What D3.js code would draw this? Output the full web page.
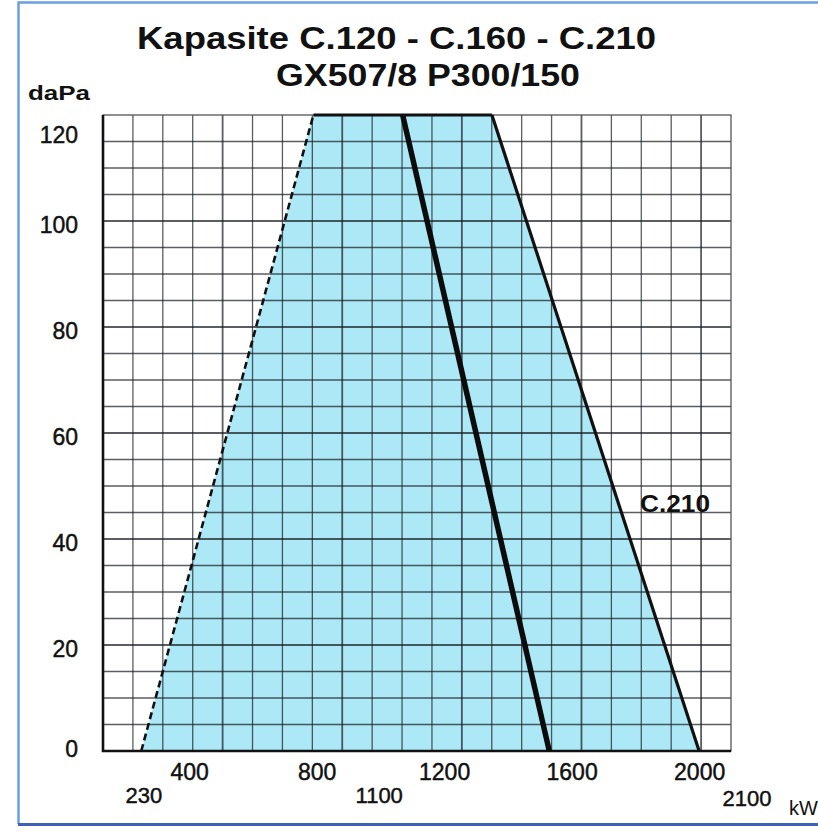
<!DOCTYPE html>
<html>
<head>
<meta charset="utf-8">
<title></title>
<style>
  body, html{
    margin: 0;
    background: #fff;
  }
  svg{
    display: block;
    font-family: "Liberation Sans", Arial, sans-serif;
  }
  .tick text, .mark{
    fill: #111;
    stroke: #111;
    stroke-width: 0.45px;
  }
</style>
</head>
<body>
<svg id="chart" width="818" height="832"></svg>
<script src="https://cdnjs.cloudflare.com/ajax/libs/d3/7.8.5/d3.min.js"></script>
<script>
var xTicks = [400, 800, 1200, 1600, 2000]
var xMarks = [230, 1100, 2100]
var yTicks = [0, 20, 40, 60, 80, 100, 120]

// working field: dashed left edge, flat top, C.210 edge
var envKW = [250, 790, 1350, 2000]
var envDaPa = [0, 120, 120, 0]
// C.160 limit (heavy line)
var c160KW = [1070, 1530]
var c160DaPa = [120, 0]

var svg = d3.select('#chart')
var W = 818, H = 832

var x = d3.scaleLinear().domain([130, 2100]).range([103, 731])
var y = d3.scaleLinear().domain([0, 120]).range([751, 115])

// frame round the whole sheet
svg.append('path')
  .attr('d', 'M' + (W + 10) + ',2.5 H18.5 V824')
  .attr('fill', 'none').attr('stroke', '#6aa0e0').attr('stroke-width', 2.5)
svg.append('line')
  .attr('x1', 18).attr('x2', W + 10).attr('y1', 824.5).attr('y2', 824.5)
  .attr('stroke', '#3e62b8').attr('stroke-width', 3)

// titles
svg.append('text').text('Kapasite C.120 - C.160 - C.210')
  .attr('x', 137).attr('y', 49)
  .attr('font-size', 32).attr('font-weight', 'bold').attr('fill', '#111')
  .attr('textLength', 519).attr('lengthAdjust', 'spacingAndGlyphs')
svg.append('text').text('GX507/8 P300/150')
  .attr('x', 276).attr('y', 86)
  .attr('font-size', 31).attr('font-weight', 'bold').attr('fill', '#111')
  .attr('textLength', 304).attr('lengthAdjust', 'spacingAndGlyphs')

// shaded field
var env = d3.range(envKW.length).map(function(i){ return [envKW[i], envDaPa[i]] })
var line = d3.line().x(function(d){ return x(d[0]) }).y(function(d){ return y(d[1]) })
svg.append('path')
  .attr('d', line(env) + 'Z')
  .attr('fill', '#ace8f6')

// grid (the sheet's grid is not tied to the tick values)
var gx = d3.scaleLinear().domain([0, 21]).range(x.range())
var gy = d3.scaleLinear().domain([0, 24]).range(y.range())
var grid = svg.append('g').attr('stroke', '#1b1f24').attr('stroke-opacity', 0.72)
grid.selectAll('.v').data(d3.range(1, 21)).enter().append('line')
  .attr('x1', gx).attr('x2', gx)
  .attr('y1', y.range()[1]).attr('y2', y.range()[0])
  .attr('stroke-width', function(d){ return d % 4 == 0 ? 1.8 : 1.3 })
grid.selectAll('.h').data(d3.range(1, 24)).enter().append('line')
  .attr('y1', gy).attr('y2', gy)
  .attr('x1', x.range()[0]).attr('x2', x.range()[1])
  .attr('stroke-width', function(d){ return d % 4 == 0 ? 1.8 : 1.3 })

// plot border
svg.append('rect')
  .attr('x', x.range()[0]).attr('y', y.range()[1])
  .attr('width', x.range()[1] - x.range()[0]).attr('height', y.range()[0] - y.range()[1])
  .attr('fill', 'none').attr('stroke', '#555').attr('stroke-width', 1.3)
svg.append('path')
  .attr('d', 'M' + x.range()[0] + ',' + y.range()[1] + 'V' + y.range()[0] + 'H' + x.range()[1])
  .attr('fill', 'none').attr('stroke', '#111').attr('stroke-width', 2.6)

// field edges
svg.append('path').attr('d', line(env.slice(0, 2)))
  .attr('stroke', '#111').attr('stroke-width', 2.6).attr('stroke-dasharray', '7,4').attr('fill', 'none')
svg.append('path').attr('d', line(env.slice(1, 3)))
  .attr('stroke', '#111').attr('stroke-width', 3.2).attr('fill', 'none')
svg.append('path').attr('d', line(env.slice(2)))
  .attr('stroke', '#111').attr('stroke-width', 3.2).attr('fill', 'none')
var c160 = d3.range(c160KW.length).map(function(i){ return [c160KW[i], c160DaPa[i]] })
svg.append('path').attr('d', line(c160))
  .attr('stroke', '#0c0c0c').attr('stroke-width', 5.5).attr('fill', 'none')

// axes
var yAxis = svg.append('g').attr('transform', 'translate(' + x.range()[0] + ',0)')
  .call(d3.axisLeft(y).tickValues(yTicks).tickSize(0).tickPadding(25))
yAxis.select('.domain').remove()
yAxis.selectAll('text').attr('font-size', 23).attr('font-family', null)
  .attr('dy', function(d){ return d == 120 ? '1.2em' : d == 0 ? '0.25em' : '0.5em' })

var xAxis = svg.append('g').attr('transform', 'translate(0,' + y.range()[0] + ')')
  .call(d3.axisBottom(x).tickValues(xTicks).tickSize(0).tickPadding(13).tickFormat(d3.format('d')))
xAxis.select('.domain').remove()
xAxis.selectAll('text').attr('font-size', 23).attr('font-family', null)

// second row of kW marks
var nudge = {230: 9, 1100: -33, 2100: 16}
svg.selectAll('.mark').data(xMarks).enter().append('text')
  .attr('class', 'mark')
  .attr('x', function(d){ return x(d) + nudge[d] })
  .attr('y', function(d){ return d == 2100 ? 806 : 803 })
  .attr('text-anchor', 'middle').attr('font-size', 22)
  .text(function(d){ return d })

svg.append('text').text('daPa').attr('x', 28).attr('y', 100)
  .attr('font-size', 21).attr('font-weight', 'bold').attr('fill', '#111')
  .attr('textLength', 62).attr('lengthAdjust', 'spacingAndGlyphs')
svg.append('text').text('kW').attr('x', 789).attr('y', 815)
  .attr('font-size', 20).attr('fill', '#111')
svg.append('text').text('C.210').attr('x', 640).attr('y', 512)
  .attr('font-size', 24).attr('font-weight', 'bold').attr('fill', '#111')
  .attr('textLength', 70).attr('lengthAdjust', 'spacingAndGlyphs')
</script>
</body>
</html>
